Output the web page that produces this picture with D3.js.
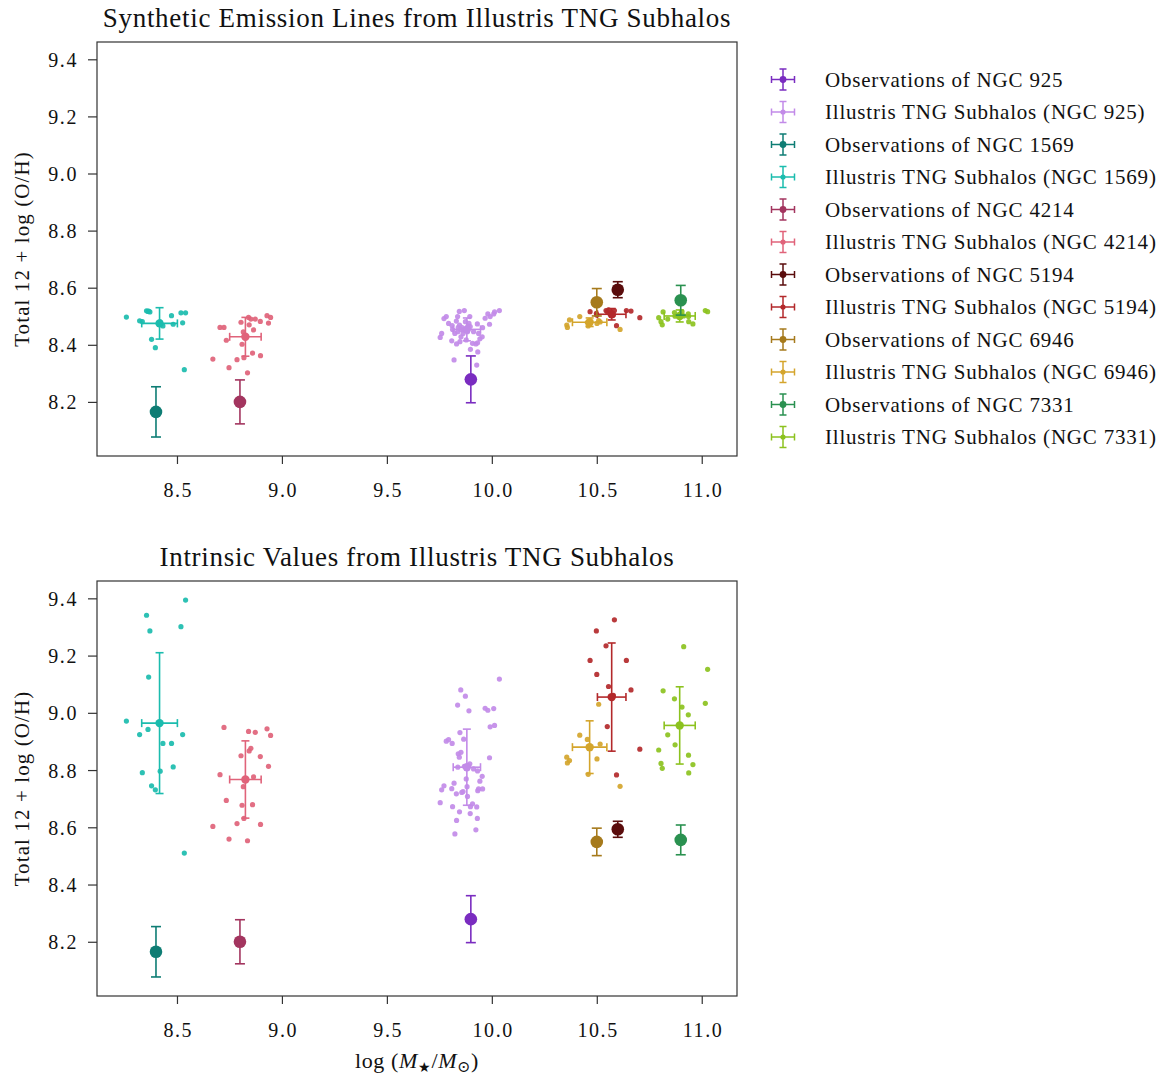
<!DOCTYPE html>
<html>
<head>
<meta charset="utf-8">
<script src="https://cdn.jsdelivr.net/npm/d3@7"></script>
<style>
  html, body { margin: 0; padding: 0; background: #ffffff; }
  svg text { font-family: "Liberation Serif", "Times New Roman", "DejaVu Serif", serif; fill: #111; }
</style>
</head>
<body>
<svg id="chart" width="1168" height="1077"></svg>
<script>
// ---- galaxies and colours ----
const galaxies = ["NGC 925", "NGC 1569", "NGC 4214", "NGC 5194", "NGC 6946", "NGC 7331"];
const obsColors = ["#7a2cc0", "#0e7d74", "#a3355f", "#5a0c0c", "#a67a1c", "#2a9150"];
const subColors = ["#c28be8", "#1bbcae", "#e0637a", "#b3292b", "#d4a52c", "#8cc21f"];

// ---- observed values (log M*, 12+log(O/H), error) ----
const obsMass = [9.9, 8.4, 8.8, 10.6, 10.5, 10.9];
const obsOH = [8.279, 8.165, 8.200, 8.593, 8.549, 8.556];
const obsErr = [0.082, 0.088, 0.077, 0.028, 0.048, 0.052];

// ---- subhalo summaries ----
const subMeanMass = [9.881, 8.417, 8.826, 10.571, 10.466, 10.895];
const subMassErr = [0.065, 0.085, 0.075, 0.068, 0.082, 0.074];
const synthMeanOH = [8.454, 8.475, 8.428, 8.507, 8.479, 8.501];
const synthErrOH = [0.040, 0.055, 0.068, 0.020, 0.015, 0.021];
const intrMeanOH = [8.810, 8.964, 8.767, 9.055, 8.880, 8.956];
const intrErrOH = [0.133, 0.246, 0.135, 0.189, 0.092, 0.135];

// ---- individual subhalos: stellar mass, synthetic-line O/H, intrinsic O/H ----
const mass925 = [9.754, 9.761, 9.772, 9.783, 9.794, 9.809, 9.811, 9.813, 9.820, 9.824, 9.831, 9.832, 9.837, 9.838, 9.840, 9.845, 9.846, 9.848, 9.852, 9.853, 9.857, 9.863, 9.866, 9.869, 9.874, 9.878, 9.882, 9.884, 9.887, 9.891, 9.895, 9.897, 9.898, 9.908, 9.913, 9.924, 9.928, 9.931, 9.932, 9.933, 9.937, 9.943, 9.954, 9.956, 9.968, 9.981, 9.989, 9.992, 10.009, 10.013, 10.036];
const synth925 = [8.426, 8.440, 8.492, 8.499, 8.475, 8.414, 8.467, 8.454, 8.347, 8.440, 8.483, 8.403, 8.499, 8.446, 8.461, 8.517, 8.469, 8.411, 8.454, 8.428, 8.461, 8.440, 8.452, 8.520, 8.481, 8.417, 8.457, 8.446, 8.466, 8.475, 8.499, 8.464, 8.384, 8.405, 8.446, 8.403, 8.329, 8.473, 8.407, 8.375, 8.440, 8.421, 8.428, 8.460, 8.493, 8.508, 8.472, 8.499, 8.508, 8.515, 8.520];
const intr925 = [8.686, 8.731, 8.745, 8.901, 8.906, 8.735, 8.893, 8.672, 8.754, 8.577, 8.717, 8.624, 9.027, 8.810, 8.857, 8.845, 8.654, 8.931, 9.080, 8.862, 8.722, 8.725, 8.908, 8.813, 9.058, 8.769, 8.742, 8.708, 8.816, 9.007, 8.822, 8.648, 8.672, 8.682, 8.804, 8.591, 8.671, 8.631, 8.797, 8.728, 8.734, 8.761, 8.778, 8.734, 9.016, 9.009, 8.843, 8.951, 9.015, 8.956, 9.118];

const mass1569 = [8.259, 8.322, 8.335, 8.355, 8.362, 8.365, 8.371, 8.379, 8.397, 8.420, 8.433, 8.474, 8.482, 8.519, 8.527, 8.535, 8.541];
const synth1569 = [8.497, 8.484, 8.481, 8.519, 8.517, 8.518, 8.515, 8.419, 8.390, 8.480, 8.466, 8.502, 8.472, 8.512, 8.477, 8.313, 8.512];
const intr1569 = [8.971, 8.924, 8.791, 9.341, 8.942, 9.125, 9.286, 8.745, 8.731, 8.796, 8.893, 8.893, 8.811, 9.301, 8.924, 8.510, 9.394];

const mass4214 = [8.671, 8.705, 8.724, 8.735, 8.748, 8.786, 8.805, 8.810, 8.816, 8.819, 8.836, 8.841, 8.844, 8.852, 8.860, 8.865, 8.873, 8.897, 8.898, 8.929, 8.936, 8.946];
const synth4214 = [8.350, 8.461, 8.461, 8.416, 8.320, 8.348, 8.479, 8.402, 8.445, 8.355, 8.302, 8.496, 8.470, 8.490, 8.371, 8.452, 8.490, 8.482, 8.362, 8.502, 8.476, 8.496];
const intr4214 = [8.603, 8.784, 8.949, 8.694, 8.559, 8.613, 8.850, 8.677, 8.742, 8.631, 8.553, 8.935, 8.867, 8.876, 8.679, 8.776, 8.932, 8.847, 8.610, 8.944, 8.813, 8.921];

const mass5194 = [10.468, 10.498, 10.500, 10.544, 10.550, 10.556, 10.579, 10.584, 10.594, 10.641, 10.663, 10.705];
const synth5194 = [8.516, 8.510, 8.504, 8.520, 8.516, 8.522, 8.504, 8.520, 8.467, 8.520, 8.518, 8.495];
const intr5194 = [9.183, 9.286, 9.134, 9.234, 8.952, 9.092, 9.061, 9.325, 8.783, 9.183, 9.080, 8.873];

const mass6946 = [10.357, 10.360, 10.370, 10.419, 10.455, 10.459, 10.501, 10.509, 10.516, 10.611];
const synth6946 = [8.469, 8.461, 8.487, 8.499, 8.478, 8.466, 8.475, 8.485, 8.480, 8.454];
const intr6946 = [8.845, 8.825, 8.833, 8.922, 8.907, 8.785, 8.839, 9.030, 8.891, 8.743];

const mass7331 = [10.795, 10.806, 10.812, 10.816, 10.838, 10.870, 10.873, 10.906, 10.914, 10.936, 10.937, 10.938, 10.958, 11.017, 11.028];
const synth7331 = [8.495, 8.481, 8.470, 8.515, 8.490, 8.513, 8.500, 8.516, 8.501, 8.508, 8.499, 8.481, 8.473, 8.520, 8.516];
const intr7331 = [8.870, 8.823, 8.806, 9.077, 8.923, 9.049, 8.888, 9.020, 9.231, 8.993, 8.852, 8.790, 8.819, 9.033, 9.152];

const subMass = [mass925, mass1569, mass4214, mass5194, mass6946, mass7331];
const subSynth = [synth925, synth1569, synth4214, synth5194, synth6946, synth7331];
const subIntr = [intr925, intr1569, intr4214, intr5194, intr6946, intr7331];

// ---- axis ticks and text ----
const xTicks = [8.5, 9.0, 9.5, 10.0, 10.5, 11.0];
const yTicks = [8.2, 8.4, 8.6, 8.8, 9.0, 9.2, 9.4];
const panelTitles = ["Synthetic Emission Lines from Illustris TNG Subhalos", "Intrinsic Values from Illustris TNG Subhalos"];
const yLabel = "Total 12 + log (O/H)";

// ---- layout ----
const svg = d3.select("#chart");
const plotLeft = 97, plotRight = 737;
const panels = [
  { top: 42, bottom: 456, mean: synthMeanOH, err: synthErrOH, pts: subSynth },
  { top: 581, bottom: 996, mean: intrMeanOH, err: intrErrOH, pts: subIntr }
];

const x = d3.scaleLinear().domain([8.119, 11.168]).range([plotLeft, plotRight]);

function errorbar(g, cx, cy, xe, ye, color, r, cap, lw) {
  // cx, cy in pixels; xe/ye as [lo, hi] pixel pairs or null
  if (ye) {
    g.append("line").attr("x1", cx).attr("x2", cx).attr("y1", ye[0]).attr("y2", ye[1])
      .attr("stroke", color).attr("stroke-width", lw);
    ye.forEach(v => g.append("line").attr("x1", cx - cap).attr("x2", cx + cap).attr("y1", v).attr("y2", v)
      .attr("stroke", color).attr("stroke-width", lw));
  }
  if (xe) {
    g.append("line").attr("x1", xe[0]).attr("x2", xe[1]).attr("y1", cy).attr("y2", cy)
      .attr("stroke", color).attr("stroke-width", lw);
    xe.forEach(v => g.append("line").attr("x1", v).attr("x2", v).attr("y1", cy - cap).attr("y2", cy + cap)
      .attr("stroke", color).attr("stroke-width", lw));
  }
  g.append("circle").attr("cx", cx).attr("cy", cy).attr("r", r).attr("fill", color);
}

panels.forEach((p, pi) => {
  const y = d3.scaleLinear().domain([8.0105, 9.4606]).range([p.bottom, p.top]);
  const g = svg.append("g");

  // subhalo scatter
  galaxies.forEach((name, i) => {
    g.append("g").selectAll("circle")
      .data(subMass[i].map((m, k) => [m, p.pts[i][k]]))
      .join("circle")
      .attr("cx", d => x(d[0]))
      .attr("cy", d => y(d[1]))
      .attr("r", 2.6)
      .attr("fill", subColors[i])
      .attr("fill-opacity", 0.92);
  });

  // subhalo mean and spread
  galaxies.forEach((name, i) => {
    const cx = x(subMeanMass[i]), cy = y(p.mean[i]);
    errorbar(g, cx, cy,
      [x(subMeanMass[i] - subMassErr[i]), x(subMeanMass[i] + subMassErr[i])],
      [y(p.mean[i] + p.err[i]), y(p.mean[i] - p.err[i])],
      subColors[i], 4.2, 4, 1.6);
  });

  // observations
  galaxies.forEach((name, i) => {
    const cx = x(obsMass[i]), cy = y(obsOH[i]);
    errorbar(g, cx, cy, null,
      [y(obsOH[i] + obsErr[i]), y(obsOH[i] - obsErr[i])],
      obsColors[i], 6.3, 5, 1.6);
  });

  // frame
  svg.append("rect").attr("x", plotLeft).attr("y", p.top)
    .attr("width", plotRight - plotLeft).attr("height", p.bottom - p.top)
    .attr("fill", "none").attr("stroke", "#333").attr("stroke-width", 1.2);

  // axes
  const ax = svg.append("g").attr("transform", `translate(0,${p.bottom})`)
    .call(d3.axisBottom(x).tickValues(xTicks).tickFormat(d3.format(".1f")).tickSize(8).tickPadding(6));
  const ay = svg.append("g").attr("transform", `translate(${plotLeft},0)`)
    .call(d3.axisLeft(y).tickValues(yTicks).tickFormat(d3.format(".1f")).tickSize(9).tickPadding(10));
  [ax, ay].forEach(a => {
    a.select(".domain").remove();
    a.selectAll(".tick line").attr("stroke", "#333").attr("stroke-width", 1.2);
    a.selectAll(".tick text").style("font-size", "20px").style("letter-spacing", "1.6px").attr("fill", "#111");
  });
  ax.selectAll(".tick text").attr("y", 41).attr("dy", 0).attr("dx", "0.8px");
  ay.selectAll(".tick text").attr("dy", "0.35em");

  // title
  svg.append("text").attr("x", (plotLeft + plotRight) / 2).attr("y", p.top - 15)
    .attr("text-anchor", "middle").style("font-size", "27px").style("letter-spacing", "0.7px")
    .text(panelTitles[pi]);

  // y label
  svg.append("text")
    .attr("transform", `translate(29,${(p.top + p.bottom) / 2}) rotate(-90)`)
    .attr("text-anchor", "middle").style("font-size", "21px").style("letter-spacing", "1.1px")
    .text(yLabel);
});

// x label for the lower panel
const xl = svg.append("text").attr("x", (plotLeft + plotRight) / 2).attr("y", 1068)
  .attr("text-anchor", "middle").style("font-size", "22px").style("letter-spacing", "0.6px");
xl.append("tspan").text("log (");
xl.append("tspan").style("font-style", "italic").text("M");
xl.append("tspan").attr("dy", 4).style("font-size", "14px").text("★");
xl.append("tspan").attr("dy", -4).text("/");
xl.append("tspan").style("font-style", "italic").text("M");
xl.append("tspan").attr("dy", 4).style("font-size", "16px").text("⊙");
xl.append("tspan").attr("dy", -4).text(")");

// legend
const legend = svg.append("g");
const legendEntries = [];
galaxies.forEach((name, i) => {
  legendEntries.push({ label: "Observations of " + name, color: obsColors[i], r: 3.4 });
  legendEntries.push({ label: "Illustris TNG Subhalos (" + name + ")", color: subColors[i], r: 2.6 });
});
legendEntries.forEach((e, k) => {
  const cy = 79.5 + k * 32.5, cx = 783;
  errorbar(legend, cx, cy, [cx - 11.5, cx + 11.5], [cy - 10.5, cy + 10.5], e.color, e.r, 3.5, 1.5);
  legend.append("text").attr("x", 825).attr("y", cy).attr("dy", "0.34em")
    .style("font-size", "21px").style("letter-spacing", "0.8px").text(e.label);
});
</script>
</body>
</html>
